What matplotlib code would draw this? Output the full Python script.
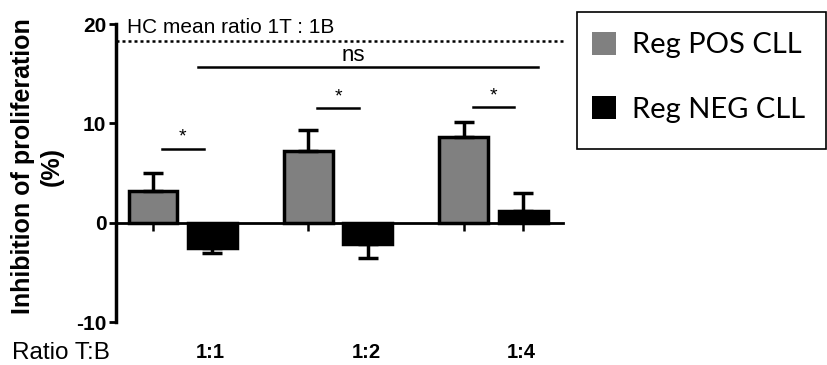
import matplotlib
matplotlib.use("Agg")
import matplotlib.pyplot as plt
import matplotlib.transforms as mtrans
from matplotlib.patches import Rectangle
import numpy as np

ratios = ['1:1', '1:2', '1:4']
pos_mean = [3.2, 7.2, 8.6]
pos_err = [1.8, 2.1, 1.5]
neg_mean = [-2.5, -2.1, 1.2]
neg_err = [0.55, 1.5, 1.8]
hc_mean = 18.3
series_names = ['Reg POS CLL', 'Reg NEG CLL']
star_y = [7.45, 11.5, 11.6]
ns_y = 15.7

plt.rcParams['font.family'] = ['Liberation Sans', 'DejaVu Sans']

fig = plt.figure(figsize=(8.27, 3.65), dpi=100)
ax = fig.add_axes([116/827, 1-322/365, 447/827, 298/365])

x = np.arange(len(ratios))
off = 0.19
w = 0.315

def one_sided(means, errs):
    lo = [e if m < 0 else 0 for m, e in zip(means, errs)]
    hi = [e if m >= 0 else 0 for m, e in zip(means, errs)]
    return [lo, hi]

ek = dict(elinewidth=2.5, capthick=2.5, capsize=7, ecolor='black')
b1 = ax.bar(x - off, pos_mean, w, color='#808080', edgecolor='black', linewidth=2.5,
            yerr=one_sided(pos_mean, pos_err), error_kw=ek, label=series_names[0], zorder=3)
b2 = ax.bar(x + off, neg_mean, w, color='black', edgecolor='black', linewidth=2.5,
            yerr=one_sided(neg_mean, neg_err), error_kw=ek, label=series_names[1], zorder=3)

ax.set_xlim(-0.428, 2.447)
ax.set_ylim(-10, 20)
ax.set_yticks([-10, 0, 10, 20])
ax.set_yticklabels(['-10', '0', '10', '20'], fontsize=15, fontweight='bold')
ax.tick_params(axis='y', direction='out', length=5, width=2, pad=2)

ax.spines['top'].set_visible(False)
ax.spines['right'].set_visible(False)
ax.spines['left'].set_linewidth(2.5)
ax.spines['bottom'].set_position(('data', 0))
ax.spines['bottom'].set_linewidth(2)
ticks = np.sort(np.concatenate([x - off, x + off]))
ax.set_xticks(ticks)
ax.set_xticklabels([])
ax.tick_params(axis='x', direction='out', length=6, width=1.8)

# HC reference line
ax.axhline(hc_mean, color='black', linestyle=(0, (1.2, 1.2)), linewidth=1.8, clip_on=False)
ax.text(-0.355, 19.6, 'HC mean ratio 1T : 1B', fontsize=15, va='center', ha='left')

# significance
for xi, yy in zip(x, star_y):
    ax.plot([xi - 0.135, xi + 0.135], [yy, yy], color='black', lw=1.8)
    ax.text(xi, yy + 1.2, '*', fontsize=14, ha='center', va='center')
ax.plot([0.1, 2.285], [ns_y, ns_y], color='black', lw=1.8)
ax.text(1.1, ns_y + 1.1, 'ns', fontsize=16, ha='center', va='center')

# y label
fig.text(37/827, 1 - 166/365, 'Inhibition of proliferation\n(%)', fontsize=18,
         fontweight='bold', rotation=90, ha='center', va='center',
         multialignment='center', linespacing=1.25)

# group labels
tr = mtrans.blended_transform_factory(ax.transData, fig.transFigure)
for xi, lab in zip(x, ratios):
    ax.text(xi + 0.18, 1 - 353/365, lab, fontsize=14.5, fontweight='bold', ha='center',
            va='center', transform=tr)
fig.text(12/827, 1 - 353/365, 'Ratio T:B', fontsize=17.5, ha='left', va='center')

# legend with separate box
fig.patches.append(Rectangle((577/827, 1 - 149/365), 249/827, 137/365, transform=fig.transFigure,
                             facecolor='none', edgecolor='black', linewidth=1.2))
leg = ax.legend(handles=[b1, b2], loc='upper left', bbox_to_anchor=(577/827, 1-17/365),
                bbox_transform=fig.transFigure, borderaxespad=0, frameon=False,
                prop={'family': 'Lato', 'size': 21},
                handlelength=0.85, handleheight=0.85, handletextpad=0.55, labelspacing=1.3,
                borderpad=0.5)
for h in leg.legend_handles:
    h.set_linewidth(0)

fig.savefig('out.png', dpi=100)
